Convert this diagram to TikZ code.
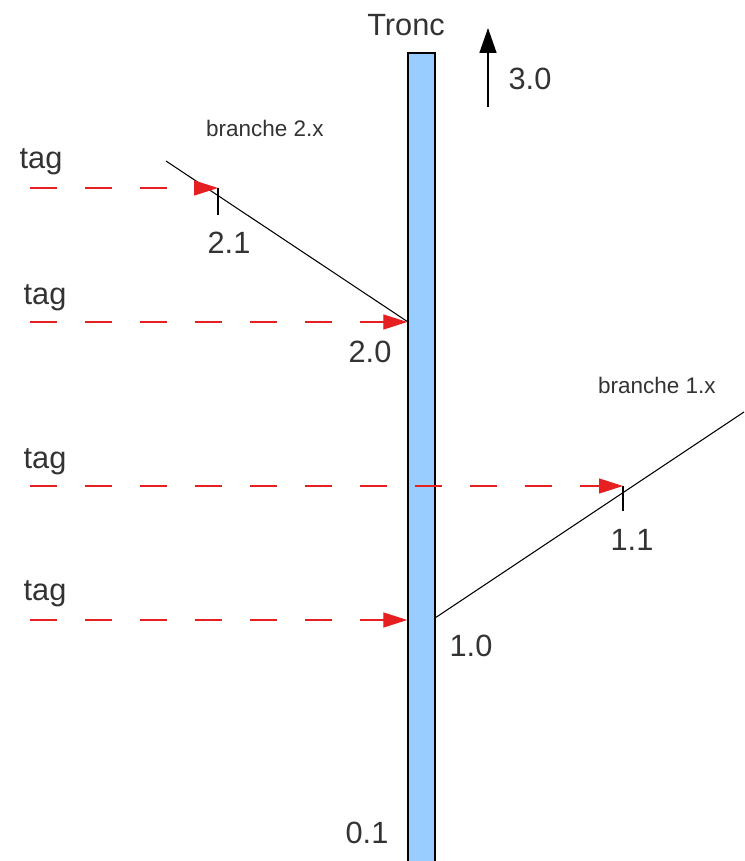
\documentclass[tikz,border=0pt]{standalone}
\usepackage{fontspec}
\setmainfont{Liberation Sans}
\usetikzlibrary{arrows.meta,positioning}

\definecolor{troncblue}{HTML}{99CCFF}
\definecolor{tagred}{HTML}{E62020}
\definecolor{labelgray}{HTML}{333333}

\tikzset{
  bigtext/.style={text=labelgray, font=\fontsize{17.5}{20}\selectfont, inner sep=0pt},
  smalltext/.style={text=labelgray, font=\fontsize{12.8}{14}\selectfont, inner sep=0pt},
  tagline/.style={draw=tagred, line width=0.75pt, dash pattern=on 0.54cm off 0.56cm, -{Triangle[length=0.48cm, width=0.3cm]}},
  branchline/.style={draw=black, line width=0.6pt},
  tick/.style={draw=black, line width=0.6pt}
}

\begin{document}
\begin{tikzpicture}[>=Latex]
    \useasboundingbox (0,0) rectangle (14.88,17.22);

    % trunk
    \node[draw=black, fill=troncblue, line width=0.8pt, minimum width=0.54cm, minimum height=16.36cm, inner sep=0pt] (tronc) at (8.43,7.98) {};
    \node[bigtext] (troncLabel) at (8.12,16.72) {Tronc};

    % next version
    \coordinate (up0) at (9.76,15.08);
    \coordinate (up1) at (9.76,16.66);
    \draw[-{Triangle[length=0.5cm, width=0.34cm]}, line width=0.8pt] (up0) -- (up1);
    \node[bigtext] (v30) at (10.60,15.64) {3.0};

    % branch 2.x
    \coordinate (b2out) at (3.32,14.00);
    \coordinate (b2root) at (8.16,10.78);
    \draw[branchline] (b2out) -- (b2root);
    \node[smalltext] (b2label) at (5.30,14.66) {branche 2.x};
    \coordinate (t21) at (4.36,13.46);
    \coordinate (t21b) at (4.36,12.92);
    \draw[tick] (t21) -- (t21b);
    \node[bigtext] (v21) at (4.58,12.36) {2.1};
    \node[bigtext] (v20) at (7.40,10.18) {2.0};

    % branch 1.x
    \coordinate (b1root) at (8.70,4.86);
    \coordinate (b1out) at (14.88,8.98);
    \draw[branchline] (b1root) -- (b1out);
    \node[smalltext] (b1label) at (13.14,9.52) {branche 1.x};
    \coordinate (t11) at (12.46,7.50);
    \coordinate (t11b) at (12.46,7.00);
    \draw[tick] (t11) -- (t11b);
    \node[bigtext] (v11) at (12.64,6.42) {1.1};
    \node[bigtext] (v10) at (9.42,4.30) {1.0};

    \node[bigtext] (v01) at (7.34,0.56) {0.1};

    % tags
    \node[bigtext] (tagA) at (0.82,13.98) {tag};
    \node[bigtext] (tagB) at (0.90,11.26) {tag};
    \node[bigtext] (tagC) at (0.90,7.98) {tag};
    \node[bigtext] (tagD) at (0.90,5.34) {tag};

    \coordinate (sA) at (0.60,13.46);
    \coordinate (sB) at (0.60,10.78);
    \coordinate (sC) at (0.60,7.50);
    \coordinate (sD) at (0.60,4.82);

    \draw[tagline] (sA) -- (t21);
    \draw[tagline] (sB) -- (sB -| tronc.west);
    \draw[tagline] (sC) -- (t11);
    \draw[tagline] (sD) -- (sD -| tronc.west);
  \end{tikzpicture}
\end{document}
